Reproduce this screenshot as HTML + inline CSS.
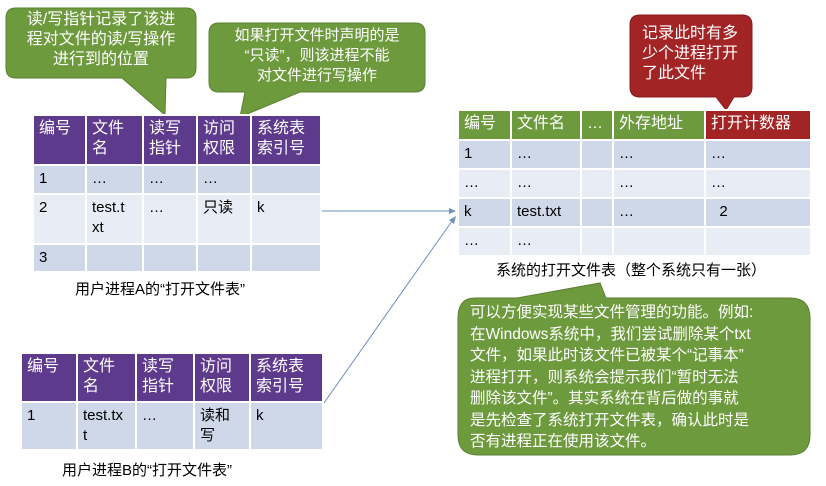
<!DOCTYPE html>
<html><head><meta charset="utf-8"><style>
body{margin:0;width:826px;height:486px;background:#fff;position:relative;overflow:hidden;font-family:"Liberation Sans","Noto Sans CJK SC",sans-serif;}
.a{position:absolute;}
table{border-collapse:collapse;position:absolute;font-size:15px;color:#000;table-layout:fixed;}
td{border:2px solid #fff;vertical-align:top;padding:3px 5px;line-height:20px;white-space:nowrap;overflow:hidden;box-sizing:border-box;}
.hp td{background:#5e3a8c;color:#fff;font-size:16px;}
.r1 td{background:#cfd8e8;}
.r2 td{background:#e8ecf4;}
.hg td{background:#6e9a3e;color:#fff;font-size:16px;}
.ct{position:absolute;color:#fff;text-align:center;font-size:15px;line-height:20px;}
.cap{position:absolute;font-size:15px;color:#000;}
</style></head><body>
<svg class="a" style="left:0;top:0" width="826" height="486">
<path d="M16,8 H186 Q196,8 196,18 V68 Q196,78 186,78 H166 L165,115 L122,78 H16 Q6,78 6,68 V18 Q6,8 16,8Z" fill="#6e9a3e" stroke="#5a8030"/>
<path d="M219,23 H415 Q425,23 425,33 V82 Q425,92 415,92 H300 L240,117 L245,92 H219 Q209,92 209,82 V33 Q209,23 219,23Z" fill="#6e9a3e" stroke="#5a8030"/>
<path d="M640,15 H742 Q752,15 752,25 V87 Q752,97 742,97 H734 L726,110 L716,97 H640 Q630,97 630,87 V25 Q630,15 640,15Z" fill="#a32424" stroke="#8a1a1a"/>
<path d="M475,298 H517 L600,283 L606,298 H790 Q810,298 810,318 V435 Q810,455 790,455 H478 Q458,455 458,435 V318 Q458,298 475,298Z" fill="#6e9a3e" stroke="#5a8030"/>
<line x1="305" y1="211" x2="452" y2="211" stroke="#6f8fbf" stroke-width="1"/>
<polygon points="456,211 449,208 449,214" fill="#6f8fbf"/>
<line x1="312" y1="420" x2="452" y2="221" stroke="#6f8fbf" stroke-width="1"/>
<polygon points="456,216 449,220 454,224" fill="#6f8fbf"/>
</svg>
<div class="ct" style="left:6px;top:10px;width:190px;font-size:16px;">读/写指针记录了该进<br>程对文件的读/写操作<br>进行到的位置</div>
<div class="ct" style="left:209px;top:26px;width:216px;">如果打开文件时声明的是<br>“只读”，则该进程不能<br>对文件进行写操作</div>
<div class="ct" style="left:630px;top:24px;width:122px;text-align:left;padding-left:12px;box-sizing:border-box;font-size:16px;">记录此时有多<br>少个进程打开<br>了此文件</div>
<div class="ct" style="left:470px;top:302px;width:340px;text-align:left;font-size:15.5px;line-height:21.5px;">可以方便实现某些文件管理的功能。例如:<br>在Windows系统中，我们尝试删除某个txt<br>文件，如果此时该文件已被某个“记事本”<br>进程打开，则系统会提示我们“暂时无法<br>删除该文件”。其实系统在背后做的事就<br>是先检查了系统打开文件表，确认此时是<br>否有进程正在使用该文件。</div>

<table style="left:32px;top:114px;width:288px;">
<colgroup><col style="width:53px"><col style="width:57px"><col style="width:54px"><col style="width:54px"><col style="width:70px"></colgroup>
<tr class="hp"><td style="height:50px">编号</td><td>文件<br>名</td><td>读写<br>指针</td><td>访问<br>权限</td><td>系统表<br>索引号</td></tr>
<tr class="r1"><td style="height:29px">1</td><td>…</td><td>…</td><td>…</td><td></td></tr>
<tr class="r2"><td style="height:50px">2</td><td>test.t<br>xt</td><td>…</td><td>只读</td><td>k</td></tr>
<tr class="r1"><td style="height:28px">3</td><td></td><td></td><td></td><td></td></tr>
</table>
<div class="cap" style="left:75px;top:278px;">用户进程A的“打开文件表”</div>

<table style="left:20px;top:352px;width:302px;">
<colgroup><col style="width:56px"><col style="width:59px"><col style="width:58px"><col style="width:56px"><col style="width:73px"></colgroup>
<tr class="hp"><td style="height:49px">编号</td><td>文件<br>名</td><td>读写<br>指针</td><td>访问<br>权限</td><td>系统表<br>索引号</td></tr>
<tr class="r1"><td style="height:47px">1</td><td>test.tx<br>t</td><td>…</td><td>读和<br>写</td><td>k</td></tr>
</table>
<div class="cap" style="left:62px;top:459px;">用户进程B的“打开文件表”</div>

<table style="left:457px;top:109px;width:353px;">
<colgroup><col style="width:53px"><col style="width:70px"><col style="width:32px"><col style="width:92px"><col style="width:106px"></colgroup>
<tr class="hg"><td style="height:30px">编号</td><td>文件名</td><td>…</td><td>外存地址</td><td style="background:#a32424">打开计数器</td></tr>
<tr class="r1"><td style="height:29px">1</td><td>…</td><td></td><td>…</td><td>…</td></tr>
<tr class="r2"><td style="height:29px">…</td><td>…</td><td></td><td>…</td><td>…</td></tr>
<tr class="r1"><td style="height:29px">k</td><td>test.txt</td><td></td><td>…</td><td>&nbsp;&nbsp;2</td></tr>
<tr class="r2"><td style="height:29px">…</td><td>…</td><td></td><td></td><td></td></tr>
</table>
<div class="cap" style="left:496px;top:259px;">系统的打开文件表（整个系统只有一张）</div>
</body></html>
